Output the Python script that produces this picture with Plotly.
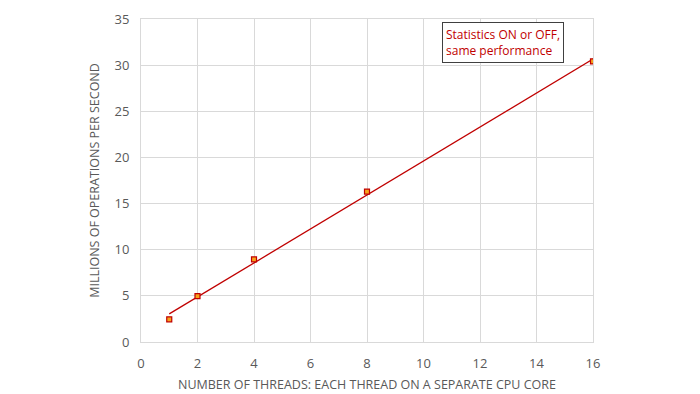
import numpy as np
import plotly.graph_objects as go

threads = [1, 2, 4, 8, 16]
mops = [2.46, 4.98, 8.95, 16.3, 30.4]
x_ticks = [0, 2, 4, 6, 8, 10, 12, 14, 16]
y_ticks = [0, 5, 10, 15, 20, 25, 30, 35]

slope, intercept = np.polyfit(threads, mops, 1)
trend_x = [threads[0], threads[-1]]
trend_y = [slope * v + intercept for v in trend_x]

RED = "#C00000"
GRAY = "#595959"
GRID = "#D9D9D9"
FONT = "Open Sans, Liberation Sans, sans-serif"

fig = go.Figure()
fig.add_trace(go.Scatter(x=trend_x, y=trend_y, mode="lines",
                         line=dict(color=RED, width=1.3), showlegend=False,
                         hoverinfo="skip"))
fig.add_trace(go.Scatter(x=threads, y=mops, mode="markers",
                         marker=dict(symbol="square", size=5, color="#F7A21B",
                                     line=dict(color=RED, width=1.2)),
                         showlegend=False))

fig.add_annotation(x=0.667, y=0.99, xref="paper", yref="paper",
                   xanchor="left", yanchor="top", align="left",
                   text="Statistics ON or OFF,<br>same performance",
                   showarrow=False, font=dict(color=RED, size=12, family=FONT),
                   bgcolor="white", bordercolor="#404040", borderwidth=1,
                   borderpad=3)

fig.update_layout(
    width=700, height=394,
    margin=dict(l=133, r=115, t=11, b=60, autoexpand=False),
    paper_bgcolor="white", plot_bgcolor="white",
    font=dict(family=FONT, color=GRAY, size=12),
    xaxis=dict(range=[0, 16], tickvals=x_ticks, showgrid=True, gridcolor=GRID,
               gridwidth=1, zeroline=False, showline=True, linecolor=GRID,
               mirror=True, ticks="", tickfont=dict(size=13, color=GRAY),
               ticklabelstandoff=9, automargin=False,
               title=dict(text="NUMBER OF THREADS: EACH THREAD ON A SEPARATE CPU CORE",
                          font=dict(size=12.5, color=GRAY), standoff=9)),
    yaxis=dict(range=[0, 35], tickvals=y_ticks, showgrid=True, gridcolor=GRID,
               gridwidth=1, zeroline=False, showline=True, linecolor=GRID,
               mirror=True, ticks="", tickfont=dict(size=13, color=GRAY),
               ticklabelstandoff=8, automargin=False,
               title=dict(text="MILLIONS OF OPERATIONS PER SECOND",
                          font=dict(size=12.5, color=GRAY), standoff=12)),
)

fig.write_html("out.html")
